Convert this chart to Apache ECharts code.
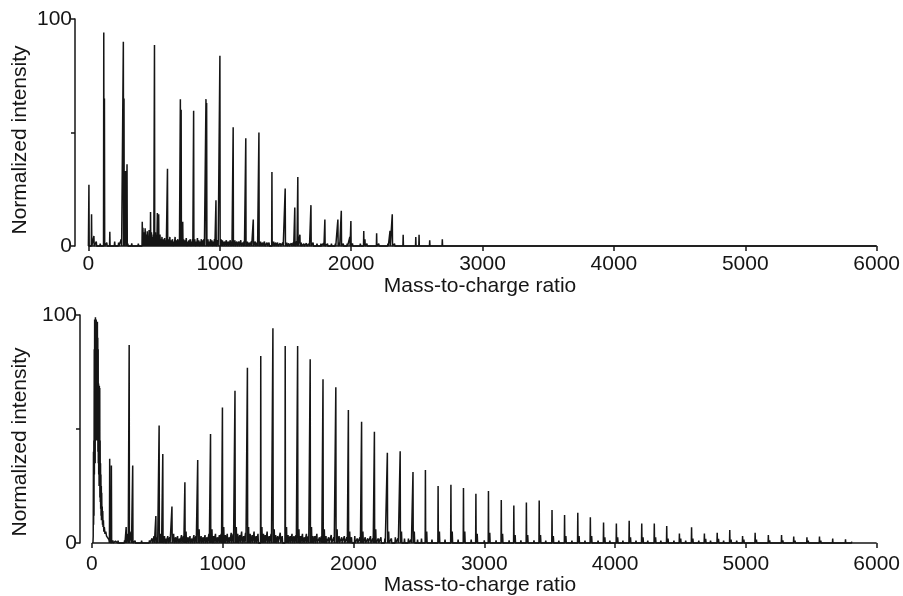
<!DOCTYPE html>
<html>
<head>
<meta charset="utf-8">
<script src="https://cdn.jsdelivr.net/npm/echarts@6/dist/echarts.min.js"></script>
<style>
  html, body { margin: 0; padding: 0; background: #fff; }
  #chart { width: 903px; height: 596px; }
</style>
</head>
<body>
<div id="chart"></div>
<script>
// ---------- data ----------
const xTicks = [0, 1000, 2000, 3000, 4000, 5000, 6000];
const yTicks = [0, 50, 100];
const yLabels = [0, 100];
const xTitle = 'Mass-to-charge ratio';
const yTitle = 'Normalized intensity';

// Top spectrum: peaks
const topPeakMz  = [4, 24, 42, 117, 122, 163, 266, 271, 283, 294, 410, 473, 503, 525, 535, 602, 700, 706, 718, 801, 895, 900, 971, 1001, 1102, 1198, 1255, 1298, 1397, 1498, 1571, 1594, 1610, 1694, 1800, 1899, 1925, 1990, 1998, 2096, 2105, 2194, 2296, 2313, 2396, 2492, 2517, 2598, 2694];
const topPeakInt = [27, 14, 4.4, 94, 65, 6.3, 90, 65, 33, 36, 10.7, 15, 88.5, 14.5, 14, 34, 64.6, 60, 10.7, 59.6, 64.7, 63, 20.2, 83.8, 52.3, 47.5, 11.7, 50, 32.6, 25.3, 17, 30.4, 5, 18, 11.7, 11.7, 15.5, 4, 11, 6.6, 3, 5.6, 6.7, 14, 5, 4, 5, 2.5, 3];
// Top spectrum: low-level noise spikes
const topNoiseMz  = [60, 90, 140, 200, 230, 250, 300, 330, 380, 415, 425, 432, 440, 448, 455, 462, 468, 480, 488, 495, 510, 518, 545, 552, 560, 570, 580, 590, 612, 620, 630, 640, 650, 660, 670, 680, 690, 712, 725, 735, 745, 755, 765, 775, 785, 792, 810, 820, 830, 840, 850, 860, 870, 880, 910, 920, 930, 940, 950, 960, 985, 1010, 1020, 1035, 1050, 1065, 1080, 1090, 1115, 1130, 1145, 1160, 1175, 1185, 1210, 1225, 1240, 1270, 1285, 1310, 1325, 1340, 1360, 1375, 1410, 1425, 1440, 1460, 1480, 1510, 1525, 1545, 1560, 1585, 1620, 1640, 1660, 1680, 1710, 1740, 1770, 1790, 1820, 1850, 1880, 1910, 1940, 1970, 2010, 2040, 2070, 2120, 2150, 2210, 2250, 2280, 2330, 2370, 2420, 2460, 2540, 2620, 2720, 2850, 3000, 3300, 3700, 4100, 4400, 4800, 5200, 5600];
const topNoiseInt = [2, 1, 1.5, 2, 1.5, 3, 1, 1.2, 1, 8, 6, 7.8, 5, 6.5, 4, 7, 5, 6, 4, 5, 6, 4, 5, 3, 4, 3, 3.5, 2.5, 3, 4, 2.5, 3, 2, 4, 2.5, 3, 2.5, 5, 3, 2.5, 3.5, 2, 2.5, 3, 2, 3, 3, 2, 3.5, 2.5, 2, 3, 2.5, 3, 3, 2, 3, 2.5, 2, 3, 2.5, 3, 2.5, 2, 2.5, 2, 2.5, 2, 2.5, 2, 2, 2.5, 1.5, 2, 2, 1.5, 2, 2, 1.5, 2, 1.5, 2, 1.5, 1.5, 2, 1.5, 1.5, 1.2, 1.5, 1.5, 1.2, 1.2, 1.5, 2, 1.5, 1, 1.2, 1, 1.5, 1, 1, 1.2, 1, 1, 1, 1.5, 1, 1, 1.2, 0.8, 1, 1, 0.8, 1, 0.8, 1, 1, 0.8, 0.8, 0.8, 0.8, 0.6, 0.5, 0.4, 0.3, 0.3, 0.3, 0.3, 0.4, 0.3, 0.3, 0.3];

// Bottom spectrum: dense low-mass cluster (envelope)
const botClusterMz  = [8, 10, 12, 13, 15, 16, 18, 19, 21, 22, 24, 25, 27, 28, 30, 31, 33, 34, 36, 37, 39, 40, 42, 43, 45, 46, 48, 49, 51, 52, 54, 55, 57, 58, 60, 61, 63, 64, 66, 67, 69, 70, 72, 73, 75, 77, 79, 81, 83, 85, 88, 91, 95, 100, 106, 112, 120, 130, 140];
const botClusterInt = [0, 3, 40, 8, 45, 12, 85, 30, 98, 40, 95, 35, 99, 50, 97, 45, 98, 55, 96, 50, 94, 45, 97, 50, 90, 40, 85, 35, 70, 30, 68, 25, 69, 25, 68, 20, 45, 18, 35, 15, 30, 12, 25, 10, 22, 10, 16, 8, 14, 7, 10, 5, 7, 4, 5, 3, 2.5, 1.5, 1];
// Bottom spectrum: peaks
const botPeakMz  = [136, 149, 262, 285, 312, 489, 514, 542, 612, 711, 809, 907, 998, 1094, 1189, 1291, 1384, 1478, 1573, 1669, 1767, 1865, 1961, 2062, 2160, 2259, 2357, 2455, 2550, 2647, 2745, 2841, 2936, 3032, 3130, 3226, 3322, 3420, 3518, 3614, 3715, 3811, 3912, 4010, 4108, 4204, 4300, 4395, 4492, 4585, 4683, 4781, 4877, 4975, 5071, 5172, 5273, 5366, 5467, 5563, 5664, 5762];
const botPeakInt = [37, 34, 7, 86.8, 34, 11.8, 51.5, 39, 16, 26.6, 36.4, 47.8, 59.4, 66.8, 76.9, 82, 94.2, 86.4, 86.4, 80.6, 71.8, 68.3, 58.3, 53.2, 48.8, 39.6, 40.2, 31.1, 32, 25, 25.6, 24.1, 21.6, 22.8, 18.9, 16.4, 17.8, 18.6, 14.5, 12.3, 13.3, 11.3, 9, 8.6, 9.8, 8.6, 8.6, 7.5, 4.2, 6.9, 4.2, 4.5, 5.7, 3.1, 4.5, 3.5, 3.5, 2.8, 2.5, 2.8, 2, 1.6];
// Bottom spectrum: low-level noise and peak shoulders
const botNoiseMz  = [160, 180, 200, 230, 250, 275, 300, 330, 360, 380, 410, 440, 460, 475, 500, 525, 530, 555, 565, 580, 595, 625, 640, 655, 670, 685, 700, 720, 735, 750, 765, 780, 795, 820, 835, 850, 865, 880, 895, 918, 930, 945, 960, 975, 988, 1008, 1020, 1035, 1050, 1065, 1080, 1104, 1115, 1130, 1145, 1160, 1175, 1198, 1210, 1225, 1240, 1255, 1270, 1300, 1312, 1325, 1340, 1355, 1370, 1394, 1405, 1420, 1440, 1455, 1488, 1500, 1515, 1530, 1545, 1560, 1583, 1595, 1610, 1625, 1640, 1655, 1679, 1690, 1705, 1720, 1740, 1755, 1777, 1790, 1810, 1830, 1850, 1875, 1890, 1910, 1930, 1950, 1971, 1985, 2010, 2030, 2050, 2072, 2090, 2110, 2130, 2148, 2170, 2190, 2210, 2240, 2269, 2290, 2320, 2340, 2367, 2390, 2420, 2440, 2465, 2490, 2520, 2560, 2600, 2657, 2700, 2755, 2800, 2851, 2900, 2946, 3000, 3042, 3090, 3140, 3190, 3236, 3280, 3332, 3380, 3430, 3470, 3528, 3570, 3624, 3670, 3725, 3770, 3821, 3870, 3922, 3960, 4020, 4060, 4118, 4160, 4214, 4250, 4310, 4350, 4405, 4450, 4502, 4540, 4595, 4640, 4693, 4730, 4791, 4830, 4887, 4930, 4985, 5020, 5081, 5120, 5182, 5220, 5283, 5320, 5376, 5420, 5477, 5520, 5573, 5620, 5674, 5720, 5772, 5810];
const botNoiseInt = [1.2, 0.8, 1, 0.8, 1.2, 4, 5, 1, 0.8, 1, 0.8, 1.2, 2, 3, 2.5, 4, 3, 3, 2, 3, 2.5, 4, 2.5, 3, 2, 3.5, 3, 5, 2.5, 3, 2, 3.5, 3, 6, 3, 2.5, 3.5, 2.5, 4, 6, 3, 4, 2.5, 3.5, 4, 7, 3.5, 4, 2.5, 4.5, 4, 7, 4, 3.5, 5, 3, 4.5, 7, 4, 3.5, 5, 3, 4, 7, 4, 3.5, 5, 3, 4, 6, 3.5, 3, 4.5, 3, 7, 3.5, 3, 4, 3, 3.5, 6, 3, 4, 2.5, 4, 3, 7, 3, 3, 4, 2.5, 3, 6, 3, 2.5, 3.5, 2.5, 6, 3, 2.5, 3, 2.5, 5, 2.5, 3, 2, 2.5, 5, 2.5, 2, 3, 2, 6, 2, 2.5, 2, 5, 2, 2.5, 2, 5, 2, 2, 1.5, 5, 1.5, 2, 5, 1.5, 5, 1.5, 5, 1.5, 5, 1.5, 4, 1.2, 4.5, 1.2, 4, 1.2, 3.5, 1.2, 3.5, 1.2, 3.5, 1, 3, 1, 3, 1, 3, 1, 3, 1, 2.5, 1, 2.5, 1, 2.5, 1, 2.5, 1, 2.5, 1, 2, 1, 2, 1, 2, 1, 1.8, 1, 1.8, 1, 1.5, 1, 1.5, 0.8, 1.5, 0.8, 1.2, 0.8, 1.2, 0.8, 1, 0.8, 1, 0.8, 1, 0.8, 0.8, 0.8, 0.8, 0.6];

// ---------- build line traces ----------
function addSpikes(pts, mz, iv, w) {
  mz.forEach((m, i) => { pts.push([m - w, 0], [m, iv[i]], [m + w, 0]); });
}
const topData = [];
addSpikes(topData, topPeakMz, topPeakInt, 2);
addSpikes(topData, topNoiseMz, topNoiseInt, 3);
topData.push([xTicks[0], 0], [xTicks[xTicks.length - 1], 0]);
topData.sort((a, b) => a[0] - b[0]);

const botData = [];
addSpikes(botData, botPeakMz, botPeakInt, 2);
addSpikes(botData, botNoiseMz, botNoiseInt, 3);
botClusterMz.forEach((m, i) => botData.push([m, botClusterInt[i]]));
botData.sort((a, b) => a[0] - b[0]);

const FONT = '"Liberation Sans", Arial, Helvetica, sans-serif';
const INK = '#151515';
const TOP_PAD = 102, BOT_PAD = 91;   // x-range left of 0 so the y axis stands detached

function xAxisCfg(idx, leftPad, margin) {
  return {
    type: 'value', gridIndex: idx, min: -leftPad, max: xTicks[xTicks.length - 1], splitNumber: 6,
    axisLine: { show: false, onZero: false },
    axisTick: { show: true, length: 5, customValues: xTicks, lineStyle: { color: INK, width: 1.5 } },
    axisLabel: { color: INK, fontFamily: FONT, fontSize: 21, margin: margin, customValues: xTicks,
      formatter: v => (v < 0 ? '' : String(v)) },
    splitLine: { show: false }
  };
}
// hidden helper axis whose zero is the grid's left edge; the y axis line sits on it
function helperAxis(idx) {
  return { type: 'value', gridIndex: idx, min: 0, max: 1, show: false };
}
function yAxisCfg(idx, helperIdx) {
  return {
    type: 'value', gridIndex: idx, min: yTicks[0], max: yTicks[yTicks.length - 1], interval: 50,
    axisLine: { show: true, onZero: true, onZeroAxisIndex: helperIdx, lineStyle: { color: INK, width: 1.5 } },
    axisTick: { show: true, length: 4, customValues: yTicks, lineStyle: { color: INK, width: 1.5 } },
    axisLabel: { color: INK, fontFamily: FONT, fontSize: 21, margin: 3, customValues: yLabels,
      formatter: v => (v === 50 ? '' : String(v)) },
    splitLine: { show: false }
  };
}
// x axis line drawn only over the axis extent 0..6000 at y = 0
function xBaseline() {
  return {
    silent: true, symbol: ['none', 'none'], label: { show: false }, animation: false,
    lineStyle: { color: INK, width: 1.5, type: 'solid' },
    emphasis: { disabled: true },
    data: [[{ coord: [xTicks[0], yTicks[0]] }, { coord: [xTicks[xTicks.length - 1], yTicks[0]] }]]
  };
}
function txt(x, y, text, rot) {
  return { type: 'text', x: x, y: y, rotation: rot || 0,
    style: { text: text, font: '21px ' + FONT, fill: INK,
      textAlign: 'center', textVerticalAlign: 'middle', align: 'center', verticalAlign: 'middle' } };
}

const chart = echarts.init(document.getElementById('chart'), null, { renderer: 'canvas' });
chart.setOption({
  animation: false,
  backgroundColor: '#ffffff',
  grid: [
    { left: 75, right: 22, top: 19, height: 227 },
    { left: 80, right: 17.5, top: 315, height: 228 }
  ],
  xAxis: [xAxisCfg(0, TOP_PAD, 8), xAxisCfg(1, BOT_PAD, 11), helperAxis(0), helperAxis(1)],
  yAxis: [yAxisCfg(0, 2), yAxisCfg(1, 3)],
  series: [
    { type: 'line', xAxisIndex: 0, yAxisIndex: 0, data: topData, showSymbol: false, clip: false,
      lineStyle: { color: INK, width: 1.5 }, silent: true, markLine: xBaseline() },
    { type: 'line', xAxisIndex: 1, yAxisIndex: 1, data: botData, showSymbol: false, clip: false,
      lineStyle: { color: INK, width: 1.5 }, silent: true, markLine: xBaseline() }
  ],
  graphic: [
    txt(20, 140, yTitle, Math.PI / 2),
    txt(480, 286, xTitle),
    txt(20, 442, yTitle, Math.PI / 2),
    txt(480, 585, xTitle)
  ]
});
</script>
</body>
</html>
